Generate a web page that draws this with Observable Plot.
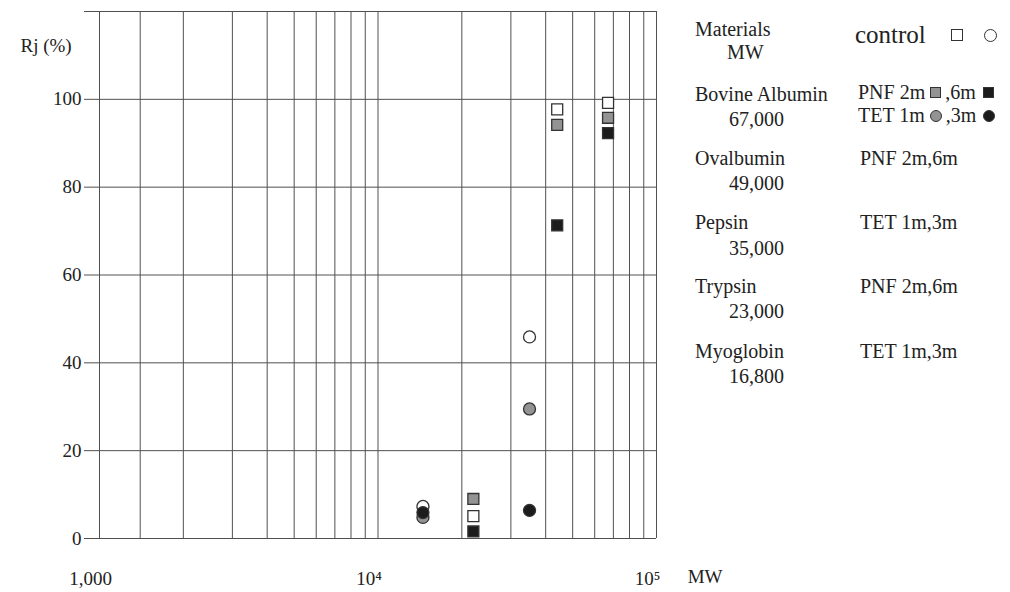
<!DOCTYPE html>
<html><head><meta charset="utf-8">
<script src="https://cdn.jsdelivr.net/npm/d3@7"></script>
<script src="https://cdn.jsdelivr.net/npm/@observablehq/plot@0.6"></script>
<style>
body{margin:0;background:#fff;}
#wrap{position:relative;width:1010px;height:592px;font-family:"Liberation Serif","Times New Roman",serif;color:#222;}
.lg{position:absolute;white-space:nowrap;line-height:1;}
.sym{display:inline-block;box-sizing:border-box;border:1.3px solid #333;vertical-align:middle;position:relative;top:-2px;}
</style></head><body><div id="wrap"></div>
<script>
// ---- axis ticks ----
const xGridTicks = [1000,1400,2000,3000,4000,5000,6000,7000,8000,9000,10000,20000,30000,40000,50000,60000,70000,80000,90000,100000];
const xLabelTicks = [1000, 10000, 100000];
const xLabelText = ["1,000", "10⁴", "10⁵"];
const yTicks = [0, 20, 40, 60, 80, 100, 120];

// ---- data (MW as plotted, Rj %) ----
const pnfMW = [67000, 44000, 22000];
const pnfControl = [99.2, 97.7, 5.1];
const pnf2m = [95.8, 94.2, 9.0];
const pnf6m = [92.3, 71.3, 1.6];
const tetMW = [35000, 14500];
const tetControl = [45.9, 7.3];
const tet1m = [29.5, 4.8];
const tet3m = [6.4, 5.9];

// ---- legend texts ----
const materials = ["Bovine Albumin", "Ovalbumin", "Pepsin", "Trypsin", "Myoglobin"];
const materialMW = ["67,000", "49,000", "35,000", "23,000", "16,800"];
const methods = [null, "PNF 2m,6m", "TET 1m,3m", "PNF 2m,6m", "TET 1m,3m"];

const WHITE = "#ffffff", GRAY = "#939393", BLACK = "#1c1c1c", LINE = "#505050";

const rows = (mw, vals) => mw.map((m, i) => ({mw: m, rj: vals[i]}));
const dot = (mw, vals, symbol, fill) => Plot.dot(rows(mw, vals), {
  x: "mw", y: "rj", symbol, r: symbol === "square" ? 6.2 : 6, fill, stroke: "#333", strokeWidth: 1.3
});

const chart = Plot.plot({
  width: 1010, height: 592,
  marginLeft: 99, marginRight: 354, marginTop: 11, marginBottom: 54,
  x: {type: "log", domain: [1000, 100000]},
  y: {domain: [0, 120]},
  style: {fontFamily: "Liberation Serif", fontSize: "19px", color: "#222", background: "transparent", overflow: "visible"},
  marks: [
    Plot.gridX(xGridTicks, {stroke: LINE, strokeOpacity: 1, strokeWidth: 1}),
    Plot.gridY(yTicks, {stroke: LINE, strokeOpacity: 1, strokeWidth: 1}),
    Plot.axisY(yTicks, {tickSize: 15, tickPadding: 3, stroke: LINE, strokeOpacity: 1, tickFormat: d => d === 120 ? "" : String(d), label: null}),
    Plot.axisX(xLabelTicks, {tickSize: 0, tickPadding: 33, tickFormat: d => xLabelText[xLabelTicks.indexOf(d)], dx: -9, label: null}),
    Plot.text(["MW"], {frameAnchor: "bottom-right", dx: 66, dy: 44, fontSize: 19}),
    Plot.text(["Rj (%)"], {frameAnchor: "top-left", dx: -79, dy: 27, fontSize: 19}),
    dot(pnfMW, pnfControl, "square", WHITE),
    dot(pnfMW, pnf2m, "square", GRAY),
    dot(pnfMW, pnf6m, "square", BLACK),
    dot(tetMW, tetControl, "circle", WHITE),
    dot(tetMW, tet1m, "circle", GRAY),
    dot(tetMW, tet3m, "circle", BLACK)
  ]
});
const wrap = document.getElementById("wrap");
wrap.appendChild(chart);

// ---- legend (HTML text) ----
function addText(html, left, baseline, fs) {
  const d = document.createElement("div");
  d.className = "lg";
  d.style.left = left + "px";
  d.style.top = (baseline - 0.8375 * fs) + "px";
  d.style.fontSize = fs + "px";
  d.innerHTML = html;
  wrap.appendChild(d);
  return d;
}
function sym(shape, fill, size, ml, mr) {
  return `<span class="sym" style="width:${size}px;height:${size}px;background:${fill};margin-left:${ml}px;margin-right:${mr}px;border-radius:${shape === "circle" ? "50%" : "0"}"></span>`;
}
addText("Materials", 695, 36, 20);
addText("MW", 727, 59, 20);
addText("control" + sym("square", WHITE, 12, 25, 0) + sym("circle", WHITE, 13, 21, 0), 855, 43, 25);
const nameBase = [101, 165, 229, 293, 358];
const mwBase = [126, 190, 255, 318, 383];
materials.forEach((m, i) => {
  addText(m, 695, nameBase[i], 20);
  addText(materialMW[i], 729, mwBase[i], 20);
  if (methods[i]) addText(methods[i], 860, nameBase[i], 20);
});
addText("PNF 2m" + sym("square", GRAY, 11, 5, 4) + ",6m" + sym("square", BLACK, 11, 7, 0), 858, 99, 20);
addText("TET 1m" + sym("circle", GRAY, 12, 5, 4) + ",3m" + sym("circle", BLACK, 12, 7, 0), 858, 122, 20);
</script></body></html>
